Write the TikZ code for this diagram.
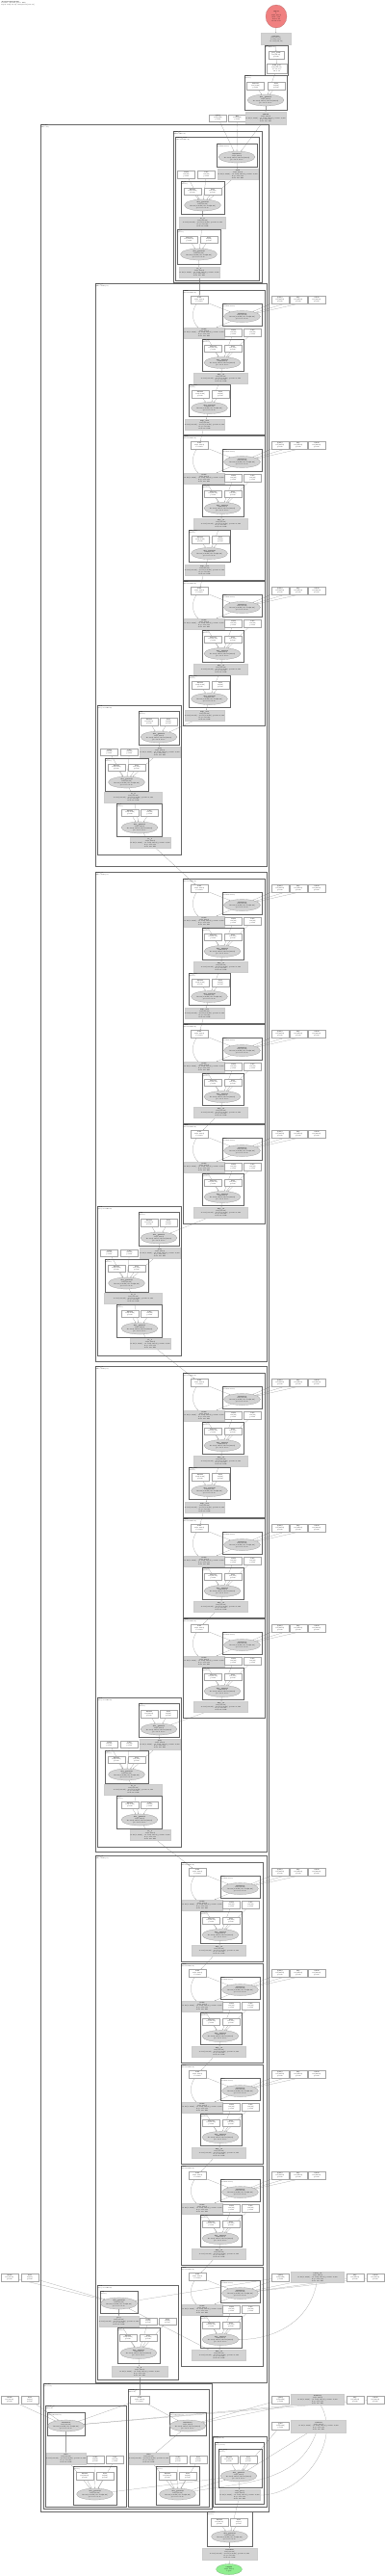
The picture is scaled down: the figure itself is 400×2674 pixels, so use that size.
\documentclass[tikz,border=0pt]{standalone}
\usepackage{fontspec}
\usetikzlibrary{shapes.geometric,arrows.meta}

\definecolor{nodegray}{HTML}{D3D3D3}
\definecolor{outred}{HTML}{F08080}
\definecolor{ingreen}{HTML}{90EE90}

\pgfdeclarelayer{edgelayer}
\pgfsetlayers{edgelayer,main}

\tikzset{
  txt/.style={font=\fontsize{4.3}{5.2}\selectfont, align=center, inner sep=0.4pt},
  wbox/.style={txt, rectangle, draw=black!35, line width=0.5pt, fill=white, minimum width=18mm, minimum height=7.5mm},
  gbox/.style={txt, rectangle, draw=black!20, line width=0.5pt, fill=nodegray, minimum width=40mm, minimum height=11mm},
  opnode/.style={txt, ellipse, draw=black!45, line width=0.5pt, fill=nodegray, minimum width=36mm, minimum height=12mm},
  clu/.style={draw=black!60, line width=1.2pt},
  bigclu/.style={draw=black!60, line width=2.4pt},
  clutext/.style={anchor=north west, font=\fontsize{4}{4.6}\selectfont, align=left, inner sep=0.5mm},
  link/.style={draw=black!38, line width=0.6pt, -{Stealth[length=1.2mm,width=0.9mm]}},
}

% cluster frame with its label
\newcommand{\clubox}[7][clu]{%
  \draw[#1] (#3,#4) rectangle (#5,#6);
  \node[clutext] (#2) at (#3,#4) {#7};}

\newcommand{\otxt}[1]{\textbf{#1}\\f32[1,16,64]\\lhs f32[1,16,64] rhs f32[64,64]\\precision None}
\newcommand{\gtxt}[1]{\textbf{#1}\\f32[1,16,64]\\in f32[1,16,64], out f32[1,16,64], params 4,160\\flops 131,072\\mem 16.3 KB}
\newcommand{\ptxt}[2]{\textbf{#1}\\f32[#2]\\param}

% residual block of the right column: id, x, y, long(1/0), inputs(1/0)
\newcommand{\blockR}[5]{%
\begin{scope}[shift={(#2,#3)}]
  \ifnum#4=1
    \clubox{#1-f}{0}{0}{85}{150}{\textbf{block}\\(ResidualBlock)}
  \else
    \clubox{#1-f}{0}{0}{85}{103}{\textbf{block}\\(ResidualBlock)}
  \fi
  \node[wbox] (#1-a) at (17,10) {\textbf{add}\\f32[1,16,64]\\residual};
  \clubox{#1-c1}{41}{14}{82}{37}{\textbf{attn}\\(SelfAttention)}
  \node[opnode] (#1-e1) at (61.5,27.5) {\otxt{attention}};
  \node[gbox] (#1-g1) at (22,44.5) {\gtxt{norm}};
  \node[wbox] (#1-w1) at (52.5,44) {\ptxt{scale}{64}};
  \node[wbox] (#1-w2) at (72.5,44) {\ptxt{bias}{64}};
  \clubox{#1-c2}{20}{51}{63}{84}{\textbf{mlp\_in}\\(Dense)}
  \node[wbox] (#1-wa) at (31.5,60.5) {\ptxt{kernel}{64,128}};
  \node[wbox] (#1-wb) at (52,60.5) {\ptxt{bias}{128}};
  \node[opnode] (#1-e2) at (41,75.5) {\otxt{dot\_general}};
  \node[gbox, minimum width=56mm] (#1-g2) at (39.5,91.5) {\gtxt{mlp\_in}};
  \ifnum#4=1
    \clubox{#1-c3}{6}{98}{49}{131}{\textbf{mlp\_out}\\(Dense)}
    \node[wbox] (#1-wc) at (18,108) {\ptxt{kernel}{128,64}};
    \node[wbox] (#1-wd) at (39,108) {\ptxt{bias}{64}};
    \node[opnode] (#1-e3) at (27.5,122.5) {\otxt{dot\_general}};
    \node[gbox] (#1-g3) at (22.5,140) {\gtxt{mlp\_out}};
  \fi
\end{scope}
\ifnum#5=1
  \node[wbox, yshift=-10mm] (#1-x1) at (291,#3) {\ptxt{query}{64,64}};
  \node[wbox, yshift=-10mm] (#1-x2) at (310,#3) {\ptxt{key}{64,64}};
  \node[wbox, yshift=-10mm] (#1-x3) at (329,#3) {\ptxt{value}{64,64}};
\fi
\begin{pgfonlayer}{edgelayer}
  \draw[link] (#1-a) -- (#1-e1);
  \draw[link] (#1-a) to[bend right=40] (#1-g1);
  \draw[link] (#1-e1) -- (#1-g1);
  \draw[link] (#1-g1) -- (#1-e2);
  \draw[link] (#1-w1) -- (#1-e2);
  \draw[link] (#1-w2) -- (#1-e2);
  \draw[link] (#1-wa) -- (#1-e2);
  \draw[link] (#1-wb) -- (#1-e2);
  \draw[link] (#1-e2) -- (#1-g2);
  \ifnum#4=1
    \draw[link] (#1-g2) -- (#1-e3);
    \draw[link] (#1-wc) -- (#1-e3);
    \draw[link] (#1-wd) -- (#1-e3);
    \draw[link] (#1-e3) -- (#1-g3);
  \fi
  \ifnum#5=1
    \draw[link] (#1-x1) -- (#1-e1);
    \draw[link] (#1-x2) -- (#1-e1);
    \draw[link] (#1-x3) -- (#1-e1);
  \fi
\end{pgfonlayer}}

% projection block on the left of a layer: id, x, y
\newcommand{\blockL}[3]{%
\begin{scope}[shift={(#2,#3)}]
  \clubox{#1-f}{0}{0}{87}{155}{\textbf{head}\\(ProjectionBlock)}
  \clubox{#1-c1}{43}{6}{85}{41}{\textbf{proj}\\(Dense)}
  \node[wbox] (#1-wi1) at (54,17) {\ptxt{kernel}{64,64}};
  \node[wbox] (#1-wi2) at (74,17) {\ptxt{bias}{64}};
  \node[opnode] (#1-e1) at (64,33) {\otxt{dot\_general}};
  \node[gbox] (#1-g1) at (65,48.5) {\gtxt{proj}};
  \node[wbox] (#1-w1) at (12.5,48.5) {\ptxt{scale}{64}};
  \node[wbox] (#1-w2) at (33.5,48.5) {\ptxt{bias}{64}};
  \clubox{#1-c2}{8}{55}{53}{89}{\textbf{fc\_0}\\(Dense)}
  \node[wbox] (#1-wa) at (20,64.5) {\ptxt{kernel}{64,128}};
  \node[wbox] (#1-wb) at (41,64.5) {\ptxt{bias}{128}};
  \node[opnode] (#1-e2) at (30.5,80) {\otxt{dot\_general}};
  \node[gbox, minimum width=60mm] (#1-g2) at (37.5,95.5) {\gtxt{fc\_0}};
  \clubox{#1-c3}{20}{102}{67}{136}{\textbf{fc\_1}\\(Dense)}
  \node[wbox] (#1-wc) at (34,111.5) {\ptxt{kernel}{128,64}};
  \node[wbox] (#1-wd) at (54.5,111.5) {\ptxt{bias}{64}};
  \node[opnode] (#1-e3) at (44,127) {\otxt{dot\_general}};
  \node[gbox] (#1-g3) at (55,143) {\gtxt{fc\_1}};
\end{scope}
\begin{pgfonlayer}{edgelayer}
  \draw[link] (#1-wi1) -- (#1-e1);
  \draw[link] (#1-wi2) -- (#1-e1);
  \draw[link] (#1-e1) -- (#1-g1);
  \draw[link] (#1-g1) -- (#1-e2);
  \draw[link] (#1-w1) -- (#1-e2);
  \draw[link] (#1-w2) -- (#1-e2);
  \draw[link] (#1-wa) -- (#1-e2);
  \draw[link] (#1-wb) -- (#1-e2);
  \draw[link] (#1-e2) -- (#1-g2);
  \draw[link] (#1-g2) -- (#1-e3);
  \draw[link] (#1-wc) -- (#1-e3);
  \draw[link] (#1-wd) -- (#1-e3);
  \draw[link] (#1-e3) -- (#1-g3);
\end{pgfonlayer}}

\begin{document}
\begin{tikzpicture}[x=1mm, y=-1mm]
\useasboundingbox (0,0) rectangle (400,2674);

% title
\node[clutext, font=\fontsize{4.2}{5}\selectfont] (title) at (1,0.5)
  {\textbf{TransformerModel}\\Params: 209,802 (819.5 KB)\\Input f32[1,16,32], Output f32[1,16,10]};

% top of the graph
\node[txt, ellipse, fill=outred, draw=red!45!black!60, line width=0.5pt, minimum width=22mm, minimum height=24mm] (x)
  at (287,17) {\textbf{input}\\x\\f32[1,16,32]\\min -3.12\\max 3.07\\mean 0.01};
\node[gbox, minimum width=31mm, minimum height=12mm] (g0) at (286.5,40.5)
  {\textbf{reshape}\\f32[1,16,32]\\in f32[1,512]\\out f32[1,16,32]};
\clubox{c0}{275}{47}{299}{78}{\textbf{pos}\\(PosEmbed)}
\node[wbox, minimum width=16mm] (w0a) at (287,57) {\ptxt{pos\_emb}{16,32}};
\node[wbox, minimum width=21mm, minimum height=10mm] (w0b) at (287.5,71) {\textbf{add\_pos}\\f32[1,16,32]\\broadcast\\16 x 32};
\clubox{c1}{254}{78}{298}{114}{\textbf{embed}\\(Dense)}
\node[wbox] (w1a) at (265.5,89) {\ptxt{kernel}{32,64}};
\node[wbox] (w1b) at (287,89) {\ptxt{bias}{64}};
\node[opnode, minimum width=38mm] (e1) at (276,104) {\otxt{dot\_general}};
\node[wbox] (w2a) at (226.5,122.5) {\ptxt{query}{64,64}};
\node[wbox] (w2b) at (246.5,122.5) {\ptxt{key}{64,64}};
\node[gbox, minimum height=13mm] (g2) at (276,122.5) {\gtxt{embed}};

\begin{pgfonlayer}{edgelayer}
  \draw[link] (x) -- (g0);
  \draw[link] (g0) -- (w0a);
  \draw[link] (w0a) -- (w0b);
  \draw[link] (w0b) -- (e1);
  \draw[link] (w1a) -- (e1);
  \draw[link] (w1b) -- (e1);
  \draw[link] (e1) -- (g2);
\end{pgfonlayer}

% all layers
\clubox[bigclu]{L0}{42}{129}{279}{2607}{\textbf{encoder}\\(Encoder)}

% first layer
\clubox{b1-f}{180}{136}{272}{293}{\textbf{layer\_0}\\(EmbedBlock)}
\clubox{b1-fi}{182}{142}{269}{291}{\textbf{embed\_attn}\\(AttentionBlock)}
\clubox{b1-c1}{225}{149}{267}{173}{\textbf{attn}\\(SelfAttention)}
\node[opnode] (b1-e1) at (246,163) {\otxt{attention}};
\node[gbox] (b1-g1) at (247,181) {\gtxt{attn}};
\node[wbox] (b1-w1) at (193.5,181) {\ptxt{scale}{64}};
\node[wbox] (b1-w2) at (214.5,181) {\ptxt{bias}{64}};
\clubox{b1-c2}{188}{188}{233}{222}{\textbf{fc\_0}\\(Dense)}
\node[wbox] (b1-wa) at (200,198.5) {\ptxt{kernel}{64,128}};
\node[wbox] (b1-wb) at (221,198.5) {\ptxt{bias}{128}};
\node[opnode] (b1-e2) at (210.5,213) {\otxt{dot\_general}};
\node[gbox, minimum width=48mm, minimum height=12mm] (b1-g2) at (210.5,231) {\gtxt{fc\_0}};
\clubox{b1-c3}{184}{238}{229}{274}{\textbf{fc\_1}\\(Dense)}
\node[wbox] (b1-wc) at (196.5,248.5) {\ptxt{kernel}{128,64}};
\node[wbox] (b1-wd) at (217,248.5) {\ptxt{bias}{64}};
\node[opnode] (b1-e3) at (206.5,264) {\otxt{dot\_general}};
\node[gbox] (b1-g3) at (207,282.5) {\gtxt{fc\_1}};

\begin{pgfonlayer}{edgelayer}
  \draw[link] (g2) -- (b1-e1);
  \draw[link] (w2a) -- (b1-e1);
  \draw[link] (w2b) -- (b1-e1);
  \draw[link] (b1-e1) -- (b1-g1);
  \draw[link] (b1-g1) -- (b1-e2);
  \draw[link] (b1-w1) -- (b1-e2);
  \draw[link] (b1-w2) -- (b1-e2);
  \draw[link] (b1-wa) -- (b1-e2);
  \draw[link] (b1-wb) -- (b1-e2);
  \draw[link] (b1-e2) -- (b1-g2);
  \draw[link] (b1-g2) -- (b1-e3);
  \draw[link] (b1-wc) -- (b1-e3);
  \draw[link] (b1-wd) -- (b1-e3);
  \draw[link] (b1-e3) -- (b1-g3);
\end{pgfonlayer}

% second layer
\clubox{b2-f}{99}{294}{277}{899}{\textbf{layer\_1}\\(EncoderLayer)}
\blockR{b2a}{190}{301}{1}{1}
\blockR{b2b}{190}{452}{1}{1}
\blockR{b2c}{190}{603}{1}{1}
\blockL{b2l}{101}{732}

% third layer
\clubox{b3-f}{99}{905}{277}{1413}{\textbf{layer\_2}\\(EncoderLayer)}
\blockR{b3a}{190}{912}{1}{1}
\blockR{b3b}{190}{1063}{0}{1}
\blockR{b3c}{190}{1167}{0}{1}
\blockL{b3l}{101}{1252}

% fourth layer
\clubox{b4-f}{99}{1418}{277}{1922}{\textbf{layer\_3}\\(EncoderLayer)}
\blockR{b4a}{190}{1425}{1}{1}
\blockR{b4b}{190}{1576}{0}{1}
\blockR{b4c}{190}{1680}{0}{1}
\blockL{b4l}{101}{1762}

% fifth layer
\clubox{b5-f}{99}{1926}{277}{2473}{\textbf{layer\_4}\\(EncoderLayer)}
\blockR{b5a}{188}{1933}{0}{1}
\blockR{b5b}{188}{2038}{0}{1}
\blockR{b5c}{188}{2143}{0}{1}
\blockR{b5d}{188}{2248}{0}{1}
\blockR{b5e}{188}{2353}{0}{0}

\clubox{b5l-f}{101}{2372}{185}{2470}{\textbf{head}\\(ProjectionBlock)}
\clubox{b5l-c1}{104}{2378}{143}{2401}{\textbf{proj}\\(Dense)}
\node[opnode] (b5l-e1) at (123.5,2391) {\otxt{dot\_general}};
\node[gbox, minimum width=39mm] (b5l-g1) at (123.5,2409.5) {\gtxt{proj}};
\node[wbox] (b5l-w1) at (154,2409.5) {\ptxt{scale}{64}};
\node[wbox] (b5l-w2) at (174,2409.5) {\ptxt{bias}{64}};
\clubox{b5l-c2}{122}{2416}{166}{2453}{\textbf{fc\_0}\\(Dense)}
\node[wbox] (b5l-wa) at (133,2426.5) {\ptxt{kernel}{64,128}};
\node[wbox] (b5l-wb) at (154,2426.5) {\ptxt{bias}{128}};
\node[opnode] (b5l-e2) at (144,2442.5) {\otxt{dot\_general}};
\node[gbox, minimum width=58mm] (b5l-g2) at (145,2462) {\gtxt{fc\_0}};

% inputs beside the fifth layer
\node[wbox] (lw1) at (10,2364) {\ptxt{mask}{16,16}};
\node[wbox] (lw2) at (31,2364) {\ptxt{bias}{16}};
\node[wbox] (rw1) at (291.5,2364) {\ptxt{query}{64,64}};
\node[gbox, minimum width=55mm] (rg1) at (330,2364) {\gtxt{cross\_in}};
\node[wbox] (rw2) at (369,2364) {\ptxt{key}{64,64}};
\node[wbox] (rw3) at (390,2364) {\ptxt{value}{64,64}};

% final section
\clubox{fin-f}{45}{2474}{220}{2604}{\textbf{decoder}\\(Decoder)}
\clubox{f1-f}{47}{2497}{131}{2602}{\textbf{branch\_0}\\(Branch)}
\clubox{f1-c1}{49}{2504}{88}{2528}{\textbf{attn}\\(CrossAttention)}
\node[opnode] (f1-e1) at (68.5,2518) {\otxt{attention}};
\node[gbox, minimum width=37mm, minimum height=12mm] (f1-g1) at (68.5,2552) {\gtxt{attn}};
\node[wbox] (f1-w1) at (99,2553) {\ptxt{scale}{64}};
\node[wbox] (f1-w2) at (119.5,2553) {\ptxt{bias}{64}};
\clubox{f1-c2}{76}{2560}{121}{2600}{\textbf{fc}\\(Dense)}
\node[wbox] (f1-wa) at (88,2570) {\ptxt{kernel}{64,64}};
\node[wbox] (f1-wb) at (109,2570) {\ptxt{bias}{64}};
\node[opnode] (f1-e2) at (98.5,2589) {\otxt{dot\_general}};

\clubox{f2-f}{133}{2480}{217}{2602}{\textbf{branch\_1}\\(Branch)}
\node[wbox, minimum width=20mm, minimum height=8mm] (f2-a) at (145,2491) {\textbf{add}\\f32[1,16,64]\\residual};
\clubox{f2-c1}{176}{2504}{214}{2528}{\textbf{attn}\\(CrossAttention)}
\node[opnode] (f2-e1) at (195,2518) {\otxt{attention}};
\node[gbox, minimum width=37mm, minimum height=12mm] (f2-g1) at (154.5,2552) {\gtxt{attn}};
\node[wbox] (f2-w1) at (185,2553) {\ptxt{scale}{64}};
\node[wbox] (f2-w2) at (206,2553) {\ptxt{bias}{64}};
\clubox{f2-c2}{162}{2560}{207}{2600}{\textbf{fc}\\(Dense)}
\node[wbox] (f2-wa) at (174,2570) {\ptxt{kernel}{64,64}};
\node[wbox] (f2-wb) at (195,2570) {\ptxt{bias}{64}};
\node[opnode] (f2-e2) at (184.5,2589) {\otxt{dot\_general}};

\clubox{h-f}{221}{2529}{277}{2602}{\textbf{merge}\\(MergeBlock)}
\clubox{h-fi}{223}{2535}{274}{2599}{\textbf{proj}\\(Projection)}
\clubox{h-c}{227}{2542}{272}{2582}{\textbf{out\_proj}\\(Dense)}
\node[wbox] (h-wa) at (238,2553) {\ptxt{kernel}{64,64}};
\node[wbox] (h-wb) at (258,2553) {\ptxt{bias}{64}};
\node[opnode] (h-e) at (248,2570) {\otxt{dot\_general}};
\node[gbox, minimum width=38mm] (h-g) at (249,2590) {\gtxt{out\_proj}};

\node[wbox] (lw3) at (10,2491) {\ptxt{mask}{16,16}};
\node[wbox] (lw4) at (31,2491) {\ptxt{bias}{16}};
\node[wbox] (rw4) at (291.5,2491) {\ptxt{query}{64,64}};
\node[gbox, minimum width=55mm] (rg2) at (330,2491) {\gtxt{memory}};
\node[wbox] (rw5) at (369,2491) {\ptxt{key}{64,64}};
\node[wbox] (rw6) at (390,2491) {\ptxt{value}{64,64}};
\node[wbox] (rw7) at (291.5,2518) {\ptxt{gate}{64,64}};
\node[gbox, minimum width=57mm, minimum height=13mm] (rg3) at (331,2518.5) {\gtxt{context}};

\clubox{z-c}{215}{2607}{262}{2643}{\textbf{classifier}\\(Dense)}
\node[wbox] (z-wa) at (228,2618) {\ptxt{kernel}{64,10}};
\node[wbox] (z-wb) at (248,2618) {\ptxt{bias}{10}};
\node[opnode] (z-e) at (238.5,2633) {\otxt{dot\_general}};
\node[gbox, minimum width=57mm, minimum height=12mm] (z-g) at (238.5,2651) {\gtxt{classifier}};
\node[txt, ellipse, fill=ingreen, draw=green!40!black!60, line width=0.5pt, minimum width=27mm, minimum height=11mm] (y)
  at (238,2667) {\textbf{output}\\f32[1,16,10]\\logits};

\begin{pgfonlayer}{edgelayer}
  % chain through the layers
  \draw[link] (b1-g3) -- (b2a-a);
  \draw[link] (b2a-g3) -- (b2b-a);
  \draw[link] (b2b-g3) -- (b2c-a);
  \draw[link] (b2c-g3) -- (b2l-e1);
  \draw[link] (b2l-g3) -- (b3a-a);
  \draw[link] (b3a-g3) -- (b3b-a);
  \draw[link] (b3b-g2) -- (b3c-a);
  \draw[link] (b3c-g2) -- (b3l-e1);
  \draw[link] (b3l-g3) -- (b4a-a);
  \draw[link] (b4a-g3) -- (b4b-a);
  \draw[link] (b4b-g2) -- (b4c-a);
  \draw[link] (b4c-g2) -- (b4l-e1);
  \draw[link] (b4l-g3) -- (b5a-a);
  \draw[link] (b5a-g2) -- (b5b-a);
  \draw[link] (b5b-g2) -- (b5c-a);
  \draw[link] (b5c-g2) -- (b5d-a);
  \draw[link] (b5d-g2) -- (b5e-a);
  % last layer
  \draw[link] (b5e-g2) -- (b5l-e1);
  \draw[link] (lw1) -- (b5l-e1);
  \draw[link] (lw2) -- (b5l-e1);
  \draw[link] (rw1) -- (b5l-e1);
  \draw[link] (rw1) -- (b5e-e1);
  \draw[link] (rg1) -- (b5e-e1);
  \draw[link] (rw2) -- (b5e-e1);
  \draw[link] (rw3) -- (b5e-e1);
  \draw[link] (rg1) to[out=-100,in=0] (b5e-e2);
  \draw[link] (b5l-e1) -- (b5l-g1);
  \draw[link] (b5l-g1) -- (b5l-e2);
  \draw[link] (b5l-w1) -- (b5l-e2);
  \draw[link] (b5l-w2) -- (b5l-e2);
  \draw[link] (b5l-wa) -- (b5l-e2);
  \draw[link] (b5l-wb) -- (b5l-e2);
  \draw[link] (b5l-e2) -- (b5l-g2);
  % final section
  \draw[link] (b5l-g2) -- (f2-a);
  \draw[link] (f2-a) -- (f2-e1);
  \draw[link] (f2-a) -- (f1-e1);
  \draw[link] (lw3) -- (f1-e1);
  \draw[link] (lw4) -- (f1-e1);
  \draw[link] (rw4) -- (f2-e1);
  \draw[link] (rg2) -- (f2-e1);
  \draw[link] (rw5) -- (f1-e1);
  \draw[link] (rw6) -- (f1-e1);
  \draw[link] (rg2) to[out=-60,in=0] (h-g);
  \draw[link] (rw7) -- (h-e);
  \draw[link] (rg3) -- (h-e);
  \draw[link] (rg3) to[out=-110,in=10] (f2-e2);
  \draw[link] (f1-e1) -- (f1-g1);
  \draw[link] (f1-g1) -- (f1-e2);
  \draw[link] (f1-w1) -- (f1-e2);
  \draw[link] (f1-w2) -- (f1-e2);
  \draw[link] (f1-wa) -- (f1-e2);
  \draw[link] (f1-wb) -- (f1-e2);
  \draw[link] (f2-e1) -- (f2-g1);
  \draw[link] (f2-g1) -- (f2-e2);
  \draw[link] (f2-w1) -- (f2-e2);
  \draw[link] (f2-w2) -- (f2-e2);
  \draw[link] (f2-wa) -- (f2-e2);
  \draw[link] (f2-wb) -- (f2-e2);
  \draw[link] (f1-e2) -- (h-e);
  \draw[link] (f2-e2) -- (h-e);
  \draw[link] (h-wa) -- (h-e);
  \draw[link] (h-wb) -- (h-e);
  \draw[link] (h-e) -- (h-g);
  \draw[link] (h-g) -- (z-e);
  \draw[link] (z-wa) -- (z-e);
  \draw[link] (z-wb) -- (z-e);
  \draw[link] (z-e) -- (z-g);
  \draw[link] (z-g) -- (y);
\end{pgfonlayer}
\end{tikzpicture}
\end{document}
